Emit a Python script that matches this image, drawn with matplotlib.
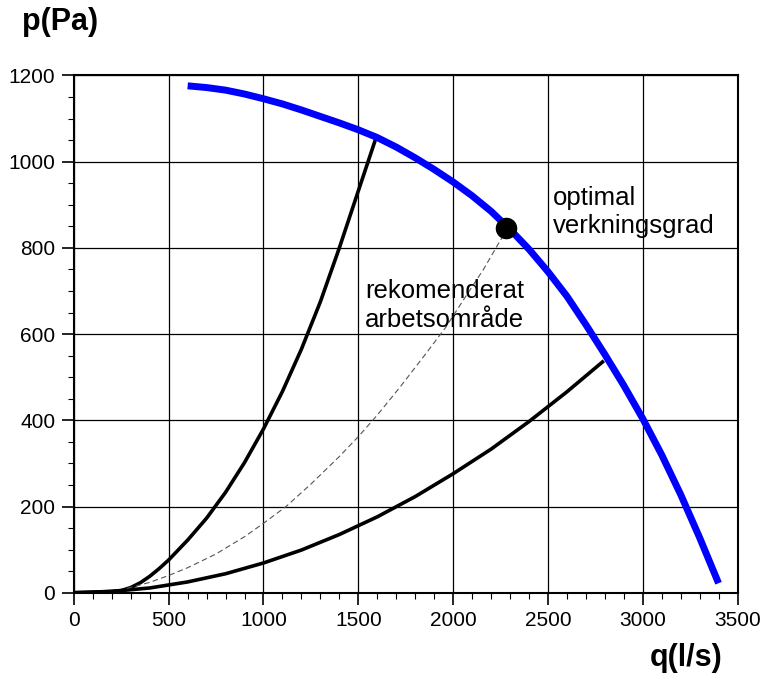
import matplotlib
matplotlib.use("Agg")
import matplotlib.pyplot as plt
from matplotlib.ticker import MultipleLocator

plt.rcParams['font.family'] = ['Liberation Sans', 'DejaVu Sans']

# fan curve (blue)
fan_q = [600, 700, 800, 900, 1000, 1100, 1200, 1300, 1400, 1500, 1600, 1700, 1800,
         1900, 2000, 2100, 2200, 2300, 2400, 2500, 2600, 2700, 2800, 2900, 3000,
         3100, 3200, 3300, 3400]
fan_p = [1176, 1172, 1166, 1157, 1146, 1134, 1120, 1105, 1090, 1074, 1056, 1034, 1009,
         982, 953, 921, 885, 843, 797, 745, 688, 622, 553, 481, 404,
         320, 228, 128, 22]

# system curves (black)
steep_q = [0, 100, 200, 250, 300, 350, 400, 450, 500, 600, 700, 800, 900, 1000,
           1100, 1200, 1300, 1400, 1500, 1597]
steep_p = [0, 1, 3, 5, 12, 23, 38, 56, 76, 122, 173, 233, 302, 380,
           467, 565, 675, 800, 932, 1060]

flat_q = [0, 200, 400, 600, 800, 1000, 1200, 1400, 1600, 1800, 2000, 2200, 2400, 2600, 2795]
flat_p = [0, 3, 11, 25, 44, 69, 99, 135, 176, 223, 276, 333, 397, 466, 538]

# dashed curve to the optimum
opt_q = [280, 400, 500, 600, 750, 900, 1000, 1119, 1250, 1400, 1500, 1600, 1720,
         1850, 1960, 2060, 2160, 2279]
opt_p = [10, 24, 40, 58, 90, 130, 161, 200, 252, 316, 362, 412, 477,
         551, 615, 683, 750, 840]

# best efficiency point
best_q = 2279
best_p = 845

fig = plt.figure(figsize=(7.68, 6.9), dpi=100)
ax = fig.add_axes([0.0962, 0.141, 0.8641, 0.7496])

ax.plot(steep_q, steep_p, color='black', lw=2.6, solid_capstyle='butt', zorder=3)
ax.plot(flat_q, flat_p, color='black', lw=2.6, solid_capstyle='butt', zorder=3)
ax.plot(opt_q, opt_p, color='#555555', lw=0.8, dashes=(5, 3), zorder=3)
ax.plot(fan_q, fan_p, color='#0000ff', lw=5, solid_capstyle='butt', zorder=4)
ax.plot(best_q, best_p, 'o', color='black', ms=14.5, zorder=5)

ax.text(2527, 899, "optimal", fontsize=18.5, va='baseline')
ax.text(2527, 834, "verkningsgrad", fontsize=18.5, va='baseline')
ax.text(1535, 684, "rekomenderat", fontsize=18.5, va='baseline')
ax.text(1535, 617, "arbetsområde", fontsize=18.5, va='baseline')

ax.set_xlim(0, 3500)
ax.set_ylim(0, 1200)
ax.xaxis.set_major_locator(MultipleLocator(500))
ax.xaxis.set_minor_locator(MultipleLocator(100))
ax.yaxis.set_major_locator(MultipleLocator(200))
ax.yaxis.set_minor_locator(MultipleLocator(50))
ax.tick_params(which='major', direction='out', length=8.5, width=1.2, labelsize=15, pad=5)
ax.tick_params(which='minor', direction='out', length=4, width=0.8)
ax.grid(which='major', color='black', lw=0.9)
for s in ax.spines.values():
    s.set_linewidth(1.5)

fig.text(22 / 768, 1 - 30 / 690, "p(Pa)", fontsize=22, fontweight='bold', va='baseline')
fig.text(650 / 768, 1 - 666 / 690, "q(l/s)", fontsize=22, fontweight='bold', va='baseline')

fig.savefig("out.png", dpi=100)
